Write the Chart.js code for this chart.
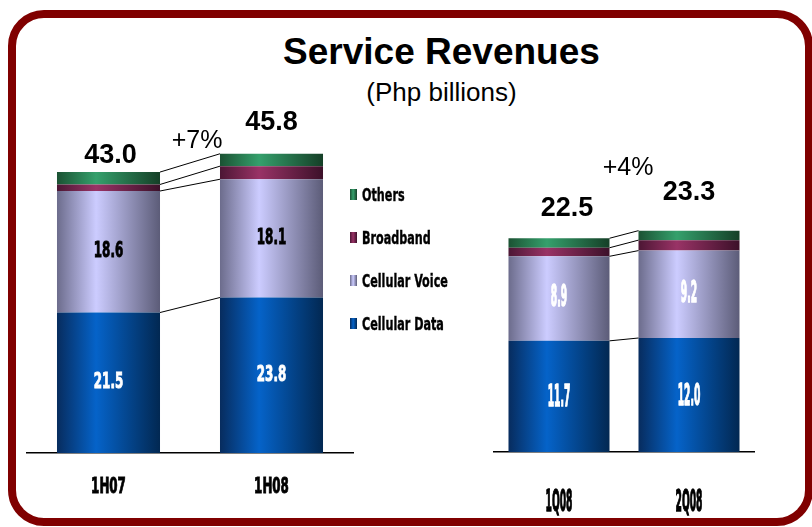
<!DOCTYPE html>
<html>
<head>
<meta charset="utf-8">
<script src="https://cdn.jsdelivr.net/npm/chart.js@4.4.1/dist/chart.umd.min.js"></script>
<style>
  html, body { margin: 0; padding: 0; background: #fff; overflow: hidden; }
  #wrap { position: relative; width: 812px; height: 527px; overflow: hidden; font-family: "Liberation Sans", Arial, sans-serif; }
  #frame { position: absolute; left: 8px; top: 10px; width: 789px; height: 500px; border: 8px solid #800000; border-radius: 36px; }
  canvas { position: absolute; left: 0; top: 0; }
  .title { position: absolute; left: 0; width: 883px; text-align: center; color: #000; }
  #t1 { top: 31px; font-size: 37px; font-weight: bold; line-height: 42px; }
  #t2 { top: 77px; font-size: 26px; line-height: 30px; }
  .growth { position: absolute; font-size: 25px; line-height: 28px; width: 80px; margin-left: -40px; text-align: center; }
  .key { position: absolute; left: 350px; height: 22px; margin-top: -11px; display: flex; align-items: center; }
  .key i { display: block; width: 7px; height: 11px; }
  .key span { margin-left: 5px; font: bold 18px "Liberation Sans Narrow", "Arial Narrow", "DejaVu Sans Condensed", sans-serif; transform: scaleX(0.69); transform-origin: left center; white-space: nowrap; -webkit-text-stroke: 0.4px #000; }
</style>
</head>
<body>
<div id="wrap">
  <div id="frame"></div>
  <div class="title" id="t1">Service Revenues</div>
  <div class="title" id="t2">(Php billions)</div>
  <canvas id="half" width="812" height="527"></canvas>
  <canvas id="quarter" width="812" height="527"></canvas>
  <div class="growth" id="g1" style="left:197px;top:125px"></div>
  <div class="growth" id="g2" style="left:628px;top:152px"></div>
  <div id="keys"></div>
</div>
<script>
// werte (Php Mrd.)
const halfLabels = ["1H07", "1H08"];
const halfData = [21.5, 23.8];
const halfVoice = [18.6, 18.1];
const halfBroadband = [1.0, 2.0];
const halfOthers = [1.9, 1.9];

const quarterLabels = ["1Q08", "2Q08"];
const quarterData = [11.7, 12.0];
const quarterVoice = [8.9, 9.2];
const quarterBroadband = [0.9, 1.1];
const quarterOthers = [1.0, 1.0];

const seriesNames = ["Cellular Data", "Cellular Voice", "Broadband", "Others"];

// farben: rand, mitte, rand
const palette = {
  "Cellular Data": ["#072c5e", "#0563c9", "#022852"],
  "Cellular Voice": ["#6c6c8c", "#ccccff", "#5c5c78"],
  "Broadband": ["#4c1634", "#993366", "#3c1029"],
  "Others": ["#1b5233", "#35a06c", "#153f27"],
};

function shade(name, pct) {
  return function (c) {
    const chart = c.chart;
    const xs = chart.scales.x;
    const cols = palette[name];
    if (!chart.chartArea || !xs) return cols[1];
    const n = chart.data.labels.length;
    const cx = xs.getPixelForValue(c.dataIndex);
    const w = (chart.chartArea.right - chart.chartArea.left) / n * pct;
    const g = chart.ctx.createLinearGradient(cx - w / 2, 0, cx + w / 2, 0);
    g.addColorStop(0, cols[0]);
    g.addColorStop(0.38, cols[1]);
    g.addColorStop(1, cols[2]);
    return g;
  };
}

// gestauchter text, etwas fetter
function squeezed(ctx, text, x, y, sx, heavy) {
  ctx.save();
  ctx.translate(x, y);
  ctx.scale(sx, 1);
  ctx.fillText(text, 0, 0);
  if (heavy) {
    ctx.strokeStyle = ctx.fillStyle;
    ctx.lineWidth = heavy;
    ctx.strokeText(text, 0, 0);
  }
  ctx.restore();
}

const narrow = '"Liberation Sans Narrow", "Arial Narrow", "DejaVu Sans Condensed", sans-serif';

// verbindungslinien + beschriftung
const barText = {
  id: "barText",
  afterDatasetsDraw(chart, args, o) {
    const ctx = chart.ctx;
    const metas = chart.data.datasets.map((d, i) => chart.getDatasetMeta(i));
    const n = chart.data.labels.length;
    ctx.save();
    ctx.strokeStyle = "#000";
    ctx.lineWidth = 1;
    for (let i = 0; i < n - 1; i++) {
      metas.forEach((m) => {
        const a = m.data[i], b = m.data[i + 1];
        ctx.beginPath();
        ctx.moveTo(a.x + a.width / 2, a.y);
        ctx.lineTo(b.x - b.width / 2, b.y);
        ctx.stroke();
      });
    }
    ctx.textAlign = "center";
    ctx.textBaseline = "middle";
    // werte in den balken
    ctx.font = "bold " + o.innerSize + "px " + narrow;
    [0, 1].forEach((di) => {
      metas[di].data.forEach((bar, i) => {
        const v = chart.data.datasets[di].data[i];
        ctx.fillStyle = o.innerColors[di];
        squeezed(ctx, v.toFixed(1), bar.x, (bar.y + bar.base) / 2 + o.innerShift[di], o.squeeze, o.heavy);
      });
    });
    // summen
    ctx.font = "bold 27px \"Liberation Sans\", Arial, sans-serif";
    ctx.fillStyle = "#000";
    const top = metas[metas.length - 1];
    top.data.forEach((bar, i) => {
      const sum = chart.data.datasets.reduce((s, d) => s + d.data[i], 0);
      squeezed(ctx, sum.toFixed(1), bar.x + o.totalShift[i][0], bar.y + o.totalShift[i][1], 1, 0);
    });
    // kategorien
    ctx.font = "bold " + o.tickSize + "px " + narrow;
    const xs = chart.scales.x;
    chart.data.labels.forEach((lab, i) => {
      squeezed(ctx, lab, xs.getPixelForValue(i), chart.chartArea.bottom + o.tickGap, o.squeeze, o.heavy);
    });
    ctx.restore();
  },
};

function makeChart(id, labels, series, opts) {
  const datasets = series.map((vals, i) => ({
    label: seriesNames[i],
    data: vals,
    backgroundColor: shade(seriesNames[i], opts.barPct),
    borderWidth: 0,
    categoryPercentage: 1,
    barPercentage: opts.barPct,
  }));
  return new Chart(document.getElementById(id), {
    type: "bar",
    data: { labels, datasets },
    plugins: [barText],
    options: {
      responsive: false,
      animation: false,
      layout: { padding: opts.padding },
      plugins: {
        legend: { display: false },
        tooltip: { enabled: false },
        barText: opts.text,
      },
      scales: {
        x: {
          stacked: true,
          grid: { display: false },
          border: { display: true, color: "#000", width: 1.5 },
          ticks: { display: false },
          afterFit: (s) => { s.height = opts.axisHeight; },
        },
        y: { stacked: true, display: false, min: 0, max: opts.yMax },
      },
    },
  });
}

const halfChart = makeChart("half", halfLabels, [halfData, halfVoice, halfBroadband, halfOthers], {
  barPct: 0.632,
  padding: { left: 27, right: 459, top: 61, bottom: 0 },
  axisHeight: 74,
  yMax: 60,
  text: {
    innerSize: 21, squeeze: 0.63, heavy: 0.9, innerColors: ["#fff", "#000"], innerShift: [0, 0],
    totalShift: [[2, -17], [0, -31]], tickSize: 21, tickGap: 35,
  },
});

const quarterChart = makeChart("quarter", quarterLabels, [quarterData, quarterVoice, quarterBroadband, quarterOthers], {
  barPct: 0.777,
  padding: { left: 494, right: 58, top: 72, bottom: 0 },
  axisHeight: 75,
  yMax: 40,
  text: {
    innerSize: 30, squeeze: 0.34, heavy: 1.4, innerColors: ["#fff", "#fff"], innerShift: [2, 0],
    totalShift: [[8, -30], [0, -38]], tickSize: 30, tickGap: 51,
  },
});

// wachstum
function growth(vals) {
  const sums = vals[0].map((_, i) => vals.reduce((s, v) => s + v[i], 0));
  return "+" + Math.round((sums[1] / sums[0] - 1) * 100) + "%";
}
document.getElementById("g1").textContent = growth([halfData, halfVoice, halfBroadband, halfOthers]);
document.getElementById("g2").textContent = growth([quarterData, quarterVoice, quarterBroadband, quarterOthers]);

// legende
const keyRows = [194, 237, 280, 323];
seriesNames.slice().reverse().forEach((name, i) => {
  const c = palette[name];
  const d = document.createElement("div");
  d.className = "key";
  d.style.top = keyRows[i] + "px";
  d.innerHTML = '<i style="background:linear-gradient(90deg,' + c[0] + ',' + c[1] + ' 45%,' + c[2] + ')"></i><span>' + name + "</span>";
  document.getElementById("keys").appendChild(d);
});
</script>
</body>
</html>
